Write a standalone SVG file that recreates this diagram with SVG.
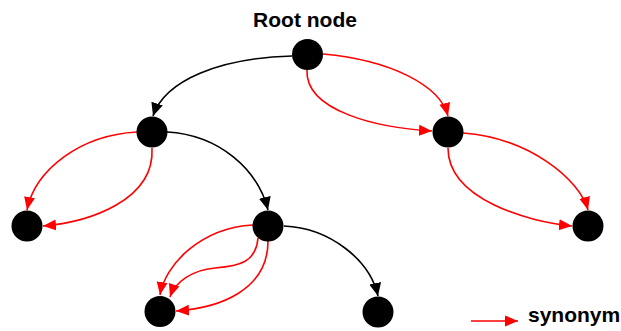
<svg xmlns="http://www.w3.org/2000/svg" width="621" height="331" viewBox="0 0 621 331">
  <style>
    .node { fill: #000; }
    .label { font-family: "Liberation Sans", Arial, sans-serif; font-weight: bold; font-size: 21px; fill: #000; }
    .edge { fill: none; stroke-width: 1.6; }
    .black { stroke: #000; }
    .red { stroke: #ff0000; }
  </style>
  <defs>
    <marker id="arrowBlack" markerUnits="userSpaceOnUse" markerWidth="14" markerHeight="14" viewBox="0 0 14 14" refX="13" refY="7" orient="auto">
      <path d="M0,1 L13,7 L0,13 Z" fill="#000"/>
    </marker>
    <marker id="arrowRed" markerUnits="userSpaceOnUse" markerWidth="14" markerHeight="14" viewBox="0 0 14 14" refX="13" refY="7" orient="auto">
      <path d="M0,1.5 L13,7 L0,12.5 Z" fill="#ff0000"/>
    </marker>
  </defs>
  <rect width="621" height="331" fill="#fff"/>

  <g id="connectors">
    <!-- hierarchy links -->
    <path class="edge black" d="M292,56 C220,58 165,80 153,116" marker-end="url(#arrowBlack)"/>
    <path class="edge black" d="M167,132 C220,135 258,170 268,210" marker-end="url(#arrowBlack)"/>
    <path class="edge black" d="M284,226 C330,228 370,260 378,296" marker-end="url(#arrowBlack)"/>
    <!-- synonym links -->
    <path class="edge red" d="M323,54 C390,60 440,85 448,116" marker-end="url(#arrowRed)"/>
    <path class="edge red" d="M307,70 C305,112 380,128 432,131" marker-end="url(#arrowRed)"/>
    <path class="edge red" d="M463,133 C530,138 580,180 588,210" marker-end="url(#arrowRed)"/>
    <path class="edge red" d="M448,148 C448,200 530,222 572,226" marker-end="url(#arrowRed)"/>
    <path class="edge red" d="M137,132 C80,135 35,170 27,210" marker-end="url(#arrowRed)"/>
    <path class="edge red" d="M152,148 C155,200 90,222 43,226" marker-end="url(#arrowRed)"/>
    <path class="edge red" d="M253,225 C200,228 165,265 160,295" marker-end="url(#arrowRed)"/>
    <path class="edge red" d="M258,238 C256,262 240,266 215,268 C192,270 175,282 170,297" marker-end="url(#arrowRed)"/>
    <path class="edge red" d="M268,241 C268,290 220,308 176,311" marker-end="url(#arrowRed)"/>
    <!-- legend -->
    <path class="edge red" d="M471,321 L518,321" marker-end="url(#arrowRed)"/>
  </g>

  <g id="root">
    <circle class="node" cx="307.5" cy="54.5" r="15.5"/>
    <text class="label" x="305" y="27" text-anchor="middle">Root node</text>
  </g>
  <g id="node-a"><circle class="node" cx="152" cy="132" r="15.5"/></g>
  <g id="node-c"><circle class="node" cx="448" cy="132" r="15.5"/></g>
  <g id="leaf-a1"><circle class="node" cx="27" cy="226" r="15.5"/></g>
  <g id="node-b"><circle class="node" cx="268" cy="226" r="15.5"/></g>
  <g id="leaf-c1"><circle class="node" cx="588" cy="226" r="15.5"/></g>
  <g id="leaf-b1"><circle class="node" cx="160" cy="311.5" r="15.5"/></g>
  <g id="leaf-b2"><circle class="node" cx="378" cy="312" r="15.5"/></g>
  <g id="legend">
    <text class="label" x="528" y="322">synonym</text>
  </g>
</svg>
